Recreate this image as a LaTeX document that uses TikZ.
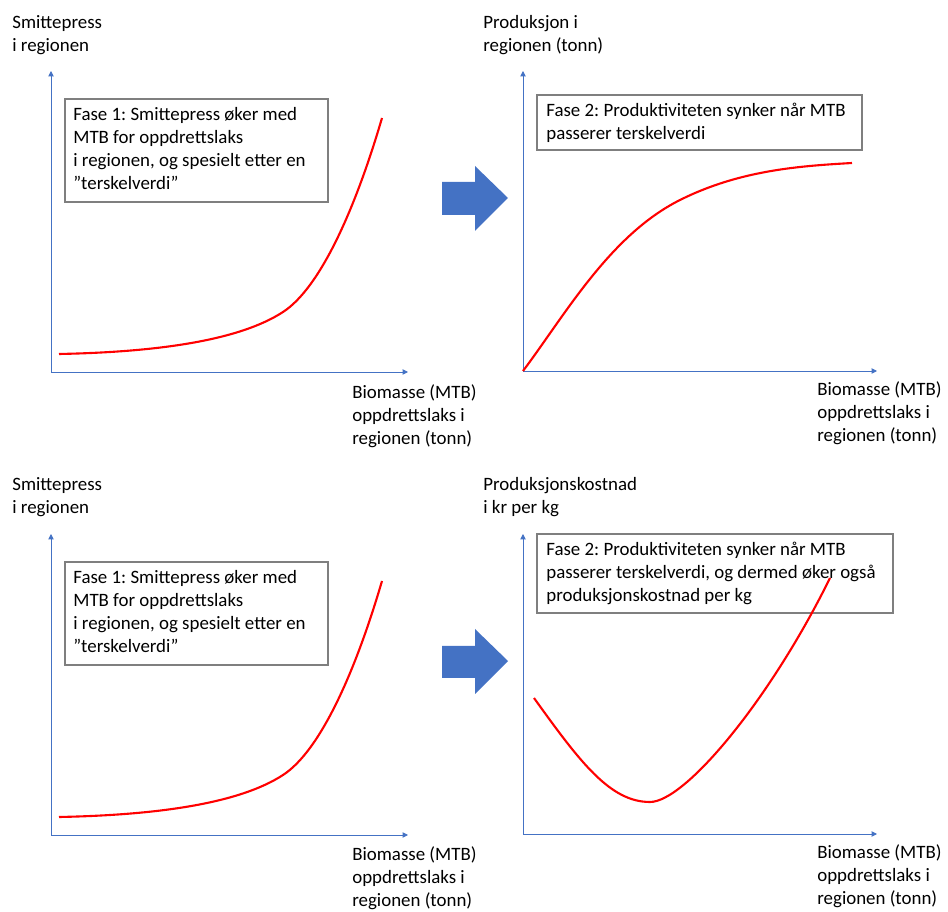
\documentclass[tikz,border=0pt]{standalone}
\usepackage{fontspec}
\setmainfont{Carlito}
\usetikzlibrary{arrows.meta}
\definecolor{aksblaa}{HTML}{4472C4}
\definecolor{boksgraa}{HTML}{7F7F7F}

\begin{document}
\begin{tikzpicture}[x=0.02cm,y=-0.02cm,
		akse/.style={draw=aksblaa,line width=0.5pt,-{Triangle[length=3pt,width=3pt]}},
		kurve/.style={draw=red,line width=1.2pt},
		ramme/.style={draw=boksgraa,line width=0.8pt},
		etikett/.style={anchor=base west,inner sep=0pt,align=left,font=\fontsize{10.75}{13.2}\selectfont\frenchspacing},
		pil/.style={fill=aksblaa}]
		\useasboundingbox (0,0) rectangle (948,912);

		\coordinate (o1) at (51,372);
		\coordinate (y1) at (51,71);
		\coordinate (x1) at (408,372);
		\draw[akse] (o1) -- (y1);
		\draw[akse] (o1) -- (x1);
		\node[etikett] (ylab1) at (12,52) {Smittepress\\i regionen};
		\node[etikett] (xlab1) at (352,445) {Biomasse (MTB)\\oppdrettslaks i\\regionen (tonn)};
		\draw[ramme] (65,99) rectangle (328,202);
		\node[etikett] (fase1a) at (73,190) {Fase 1: Smittepress øker med\\MTB for oppdrettslaks\\i regionen, og spesielt etter en\\”terskelverdi”};
		\draw[kurve] (59,354) .. controls (160,352) and (240,340) .. (283,312) .. controls (320,288) and (355,210) .. (382,118);

		\fill[pil] (442,182) -- (475,182) -- (475,166) -- (508,198) -- (475,231) -- (475,215) -- (442,215) -- cycle;

		\coordinate (o2) at (523,371);
		\coordinate (y2) at (523,71);
		\coordinate (x2) at (877,371);
		\draw[akse] (o2) -- (y2);
		\draw[akse] (o2) -- (x2);
		\node[etikett] (ylab2) at (483,52) {Produksjon i\\regionen (tonn)};
		\node[etikett] (xlab2) at (817,442) {Biomasse (MTB)\\oppdrettslaks i\\regionen (tonn)};
		\draw[ramme] (537,95) rectangle (862,150);
		\node[etikett] (fase2a) at (546,140) {Fase 2: Produktiviteten synker når MTB\\passerer terskelverdi};
		\draw[kurve] (523,371) .. controls (565,315) and (610,235) .. (680,200) .. controls (740,170) and (800,166) .. (852,163);

		\coordinate (o3) at (51,835);
		\coordinate (y3) at (51,534);
		\coordinate (x3) at (408,835);
		\draw[akse] (o3) -- (y3);
		\draw[akse] (o3) -- (x3);
		\node[etikett] (ylab3) at (12,514) {Smittepress\\i regionen};
		\node[etikett] (xlab3) at (352,907) {Biomasse (MTB)\\oppdrettslaks i\\regionen (tonn)};
		\draw[ramme] (65,562) rectangle (328,665);
		\node[etikett] (fase1b) at (73,653) {Fase 1: Smittepress øker med\\MTB for oppdrettslaks\\i regionen, og spesielt etter en\\”terskelverdi”};
		\draw[kurve] (59,817) .. controls (160,815) and (240,803) .. (283,775) .. controls (320,751) and (355,673) .. (382,581);

		\fill[pil] (442,646) -- (475,646) -- (475,629) -- (508,661) -- (475,694) -- (475,678) -- (442,678) -- cycle;

		\coordinate (o4) at (523,834);
		\coordinate (y4) at (523,534);
		\coordinate (x4) at (877,834);
		\draw[akse] (o4) -- (y4);
		\draw[akse] (o4) -- (x4);
		\node[etikett] (ylab4) at (483,514) {Produksjonskostnad\\i kr per kg};
		\node[etikett] (xlab4) at (817,905) {Biomasse (MTB)\\oppdrettslaks i\\regionen (tonn)};
		\draw[ramme] (537,534) rectangle (893,613);
		\node[etikett] (fase2b) at (546,602) {Fase 2: Produktiviteten synker når MTB\\passerer terskelverdi, og dermed øker også\\produksjonskostnad per kg};
		\draw[kurve] (534,698) .. controls (580,762) and (610,802) .. (650,802) .. controls (685,802) and (770,700) .. (830,578);
	\end{tikzpicture}
\end{document}
